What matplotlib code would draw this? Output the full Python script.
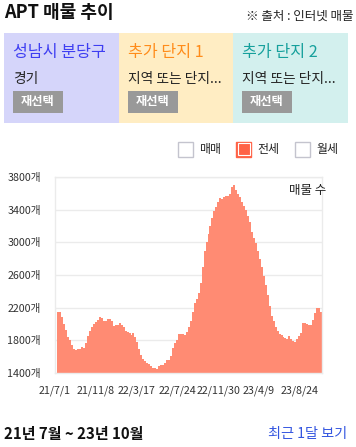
import matplotlib
matplotlib.use("Agg")
import matplotlib.pyplot as plt
from matplotlib.patches import Rectangle
import numpy as np

plt.rcParams['font.family'] = ['Noto Sans CJK KR', 'DejaVu Sans']

# ---- data ----
counts = [
    2141, 2145, 2090, 2000, 1920, 1840, 1800, 1740, 1690, 1675,
    1690, 1690, 1720, 1700, 1770, 1850, 1910, 1965, 2000, 2020,
    2045, 2080, 2070, 2030, 2030, 2055, 2059, 2038, 1973, 1981,
    1985, 2006, 1981, 1965, 1912, 1903, 1883, 1862, 1890, 1834,
    1780, 1687, 1617, 1564, 1543, 1523, 1507, 1482, 1453, 1460,
    1449, 1482, 1494, 1494, 1523, 1556, 1556, 1600, 1700, 1760,
    1801, 1871, 1871, 1871, 1860, 1903, 1965, 2038, 2148, 2259,
    2300, 2382, 2497, 2700, 2900, 3000, 3100, 3200, 3300, 3390,
    3440, 3500, 3550, 3535, 3560, 3568, 3575, 3600, 3680, 3700,
    3650, 3600, 3560, 3500, 3450, 3400, 3330, 3250, 3130, 3060,
    2990, 2900, 2800, 2700, 2590, 2480, 2360, 2220, 2100, 2040,
    1960, 1910, 1880, 1860, 1840, 1830, 1815, 1850, 1810, 1790,
    1780, 1810, 1845, 1890, 2006, 2014, 2000, 1985, 1990, 2050,
    2130, 2190, 2190, 2148,
]
x_labels = ['21/7/1', '21/11/8', '22/3/17', '22/7/24', '22/11/30', '23/4/9', '23/8/24']
y_ticks = [1400, 1800, 2200, 2600, 3000, 3400, 3800]
panel_titles = ['성남시 분당구', '추가 단지 1', '추가 단지 2']
panel_subs = ['경기', '지역 또는 단지...', '지역 또는 단지...']
legend_items = ['매매', '전세', '월세']

W, H = 356, 447
fig = plt.figure(figsize=(W / 100, H / 100), dpi=100)
fig.patch.set_facecolor('white')

def fx(x):
    return x / W

def fy(y):
    return 1 - y / H

def frect(x0, y0, x1, y1, **kw):
    r = Rectangle((fx(x0), fy(y1)), (x1 - x0) / W, (y1 - y0) / H,
                  transform=fig.transFigure, **kw)
    fig.add_artist(r)
    return r

# title row
fig.text(fx(4), fy(13), 'APT 매물 추이', fontsize=13, fontweight='bold',
         color='#111111', ha='left', va='center')
fig.text(fx(353), fy(16), '※ 출처 : 인터넷 매물', fontsize=9,
         color='#222222', ha='right', va='center')

# panels
panel_bounds = [(4, 119), (119, 233), (233, 348)]
panel_bg = ['#D5D5FA', '#FFEDC3', '#D3F0EE']
panel_fg = ['#3E3EF2', '#FF8C1A', '#16A09C']
for (x0, x1), bg, fg, t, s in zip(panel_bounds, panel_bg, panel_fg, panel_titles, panel_subs):
    frect(x0, 33, x1, 123, facecolor=bg, edgecolor='none')
    fig.text(fx(x0 + 9), fy(53), t, fontsize=11.6, color=fg,
             ha='left', va='center', fontweight='medium')
    fig.text(fx(x0 + 9), fy(79), s, fontsize=9.9, color='#222222',
             ha='left', va='center')
    frect(x0 + 9, 91, x0 + 59, 113, facecolor='#999999', edgecolor='none')
    fig.text(fx(x0 + 34), fy(102), '재선택', fontsize=8.8, color='white',
             fontweight='bold', ha='center', va='center')

# legend checkboxes
box_x = [178, 236, 295]
for bx, lab, i in zip(box_x, legend_items, range(3)):
    if i == 1:
        frect(bx, 142, bx + 15, 157, facecolor='#FF6347', edgecolor='#FF6347', linewidth=1.0)
        frect(bx + 1.5, 143.5, bx + 13.5, 155.5, facecolor='#FF6347', edgecolor='white', linewidth=0.8)
    else:
        frect(bx, 142, bx + 15, 157, facecolor='white', edgecolor='#C4C4CE', linewidth=1.0)
    fig.text(fx(bx + 21), fy(150), lab, fontsize=8.6, color='#222222',
             ha='left', va='center')

# chart
ax = fig.add_axes([fx(55), fy(372.7), 267 / W, (372.7 - 177.3) / H])
idx = np.arange(len(counts))
ax.bar(idx, counts, width=1.0, color='#FF8B73', linewidth=0, zorder=2)
ax.set_xlim(-0.5, len(counts) - 0.5)
ax.set_ylim(1400, 3800)
ax.set_yticks(y_ticks)
ax.set_yticklabels([f'{v}개' for v in y_ticks])
tick_pos = np.arange(len(x_labels)) * 20.65 - 1.75
ax.set_xticks(tick_pos)
ax.set_xticklabels(x_labels)
ax.tick_params(axis='both', length=0, labelsize=7.7, colors='#333333')
ax.tick_params(axis='y', pad=10)
ax.tick_params(axis='x', pad=9)
ax.grid(axis='y', color='#EBEBEB', linewidth=1.0, zorder=0)
ax.set_axisbelow(True)
for sp in ax.spines.values():
    sp.set_color('#EBEBEB')
    sp.set_linewidth(1.0)
ax.text(1.015, 0.93, '매물 수', transform=ax.transAxes, fontsize=9,
        color='#222222', ha='right', va='center')

# footer
fig.text(fx(4), fy(434), '21년 7월 ~ 23년 10월', fontsize=10.8, fontweight='bold',
         color='#111111', ha='left', va='center')
fig.text(fx(347), fy(434), '최근 1달 보기', fontsize=10.2, color='#3355E0',
         ha='right', va='center')

fig.savefig('out.png', dpi=100)
